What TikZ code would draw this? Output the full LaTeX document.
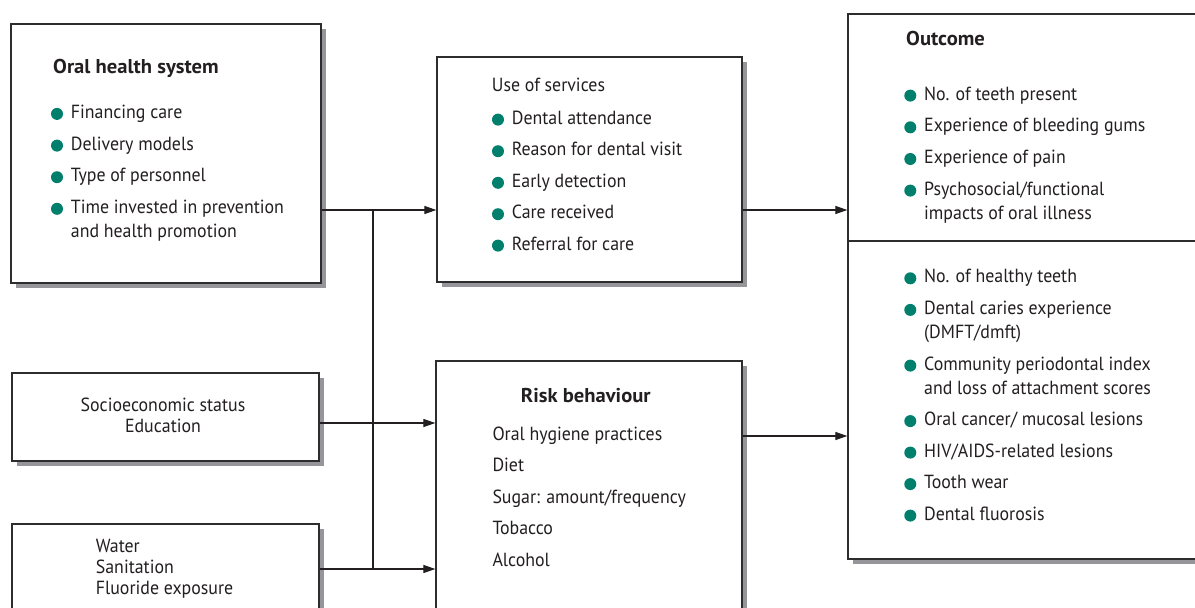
\documentclass[tikz,border=0pt]{standalone}
\usepackage{fontspec}
\setmainfont[FakeStretch=0.94]{PT Sans}
\newfontfamily\titlefont[FakeStretch=1.03]{PT Sans}
\usetikzlibrary{arrows.meta, shadows}

\definecolor{dotgreen}{RGB}{0,128,108}
\definecolor{framegray}{RGB}{45,45,45}
\definecolor{shadegray}{RGB}{150,150,154}
\definecolor{inkblack}{RGB}{35,31,32}

% two-line list entry, baseline on the first line
\newcommand{\twolines}[2]{\begin{tabular}[t]{@{}l@{}}#1\\#2\end{tabular}}
% bullet and entry: x, baseline y, name, text
\newcommand{\bitem}[4]{%
  \fill[dotgreen] (#1-13.7,#2-4.4) circle (6pt);
  \node[item] (#3) at (#1,#2) {#4};}

\begin{document}
\begin{tikzpicture}[
      x=1pt, y=-1pt,
      box/.style={rectangle, draw=framegray, line width=1.3pt, fill=white, inner sep=0pt,
        drop shadow={shadow xshift=5pt, shadow yshift=-5pt, fill=shadegray, opacity=1}},
      item/.style={anchor=base west, inner sep=0pt, text=inkblack, font=\fontsize{19}{24}\selectfont},
      head/.style={item, font=\titlefont\fontsize{20}{24}\selectfont\bfseries},
      arr/.style={line width=1.2pt, draw=inkblack, -{Triangle[length=12pt, width=8pt]}},
      link/.style={line width=1.2pt, draw=inkblack},
    ]
      \useasboundingbox (0,0) rectangle (1195,608);

      % boxes
      \node[box, minimum width=310pt, minimum height=259pt] (sys) at (166,153.5) {};
      \node[box, minimum width=305pt, minimum height=225pt] (svc) at (589.5,169.5) {};
      \node[box, minimum width=367pt, minimum height=545pt] (out) at (1031.5,286.5) {};
      \node[box, minimum width=307pt, minimum height=88pt] (ses) at (165.5,417) {};
      \node[box, minimum width=307pt, minimum height=116pt] (env) at (165.5,582) {};
      \node[box, minimum width=306pt, minimum height=279pt] (risk) at (589,500.5) {};
      \coordinate (split) at (900,241);
      \draw[link, draw=framegray, line width=1.3pt] (out.west |- split) -- (out.east |- split);

      % oral health system
      \node[head] (systitle) at (53,73.3) {Oral health system};
      \bitem{70.7}{118.3}{sys1}{Financing care}
      \bitem{70.7}{150}{sys2}{Delivery models}
      \bitem{70.7}{181.6}{sys3}{Type of personnel}
      \bitem{70.7}{213.2}{sys4}{\twolines{Time invested in prevention}{and health promotion}}

      % use of services
      \node[item] (svctitle) at (491.7,91.7) {Use of services};
      \bitem{511.7}{124}{svc1}{Dental attendance}
      \bitem{511.7}{155.6}{svc2}{Reason for dental visit}
      \bitem{511.7}{187.2}{svc3}{Early detection}
      \bitem{511.7}{218.6}{svc4}{Care received}
      \bitem{511.7}{250}{svc5}{Referral for care}

      % outcome
      \node[head] (outtitle) at (906,45) {Outcome};
      \bitem{924}{100}{out1}{No. of teeth present}
      \bitem{924}{131.7}{out2}{Experience of bleeding gums}
      \bitem{924}{163.4}{out3}{Experience of pain}
      \bitem{924}{195}{out4}{\twolines{Psychosocial/functional}{impacts of oral illness}}
      \bitem{924}{282.7}{out5}{No. of healthy teeth}
      \bitem{924}{314.3}{out6}{\twolines{Dental caries experience}{(DMFT/dmft)}}
      \bitem{924}{370}{out7}{\twolines{Community periodontal index}{and loss of attachment scores}}
      \bitem{924}{425.5}{out8}{Oral cancer/ mucosal lesions}
      \bitem{924}{457}{out9}{HIV/AIDS-related lesions}
      \bitem{924}{488.5}{out10}{Tooth wear}
      \bitem{924}{520}{out11}{Dental fluorosis}

      % socioeconomic and environment
      \node[item, anchor=base, font=\fontsize{19}{21}\selectfont] (sestext) at (163,411.7)
        {\begin{tabular}[t]{@{}c@{}}Socioeconomic status\\Education\end{tabular}};
      \node[item, font=\fontsize{19}{20.7}\selectfont] (envtext) at (95.7,552.7)
        {\begin{tabular}[t]{@{}l@{}}Water\\Sanitation\\Fluoride exposure\end{tabular}};

      % risk behaviour
      \node[head, anchor=base] (risktitle) at (585.8,402.7) {Risk behaviour};
      \node[item] (risk1) at (492.3,440) {Oral hygiene practices};
      \node[item] (risk2) at (492.3,471.6) {Diet};
      \node[item] (risk3) at (492.3,503.2) {Sugar: amount/frequency};
      \node[item] (risk4) at (492.3,534.8) {Tobacco};
      \node[item] (risk5) at (492.3,566.4) {Alcohol};

      % connectors
      \coordinate (jtop) at (373,210);
      \coordinate (jmid) at (373,423);
      \coordinate (jbot) at (373,569);
      \coordinate (rout) at (795,436);
      \draw[arr] (sys.east |- jtop) -- (svc.west |- jtop);
      \draw[arr] (ses.east |- jmid) -- (risk.west |- jmid);
      \draw[arr] (env.east |- jbot) -- (risk.west |- jbot);
      \draw[link] (jtop) -- (jbot);
      \draw[arr] (svc.east |- jtop) -- (out.west |- jtop);
      \draw[arr] (risk.east |- rout) -- (out.west |- rout);
    \end{tikzpicture}
\end{document}
